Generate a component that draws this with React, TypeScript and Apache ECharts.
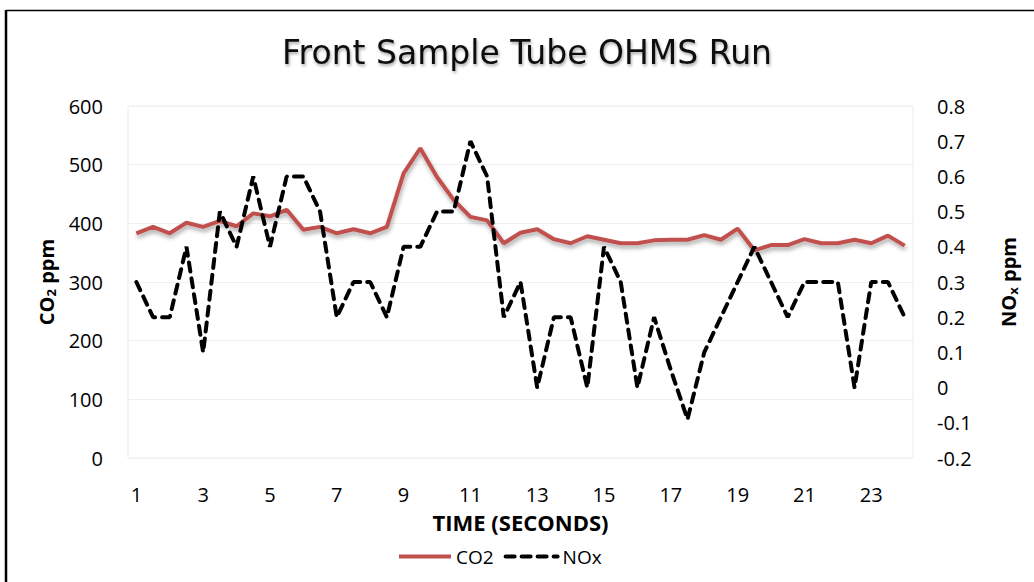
import React, { useEffect, useRef } from "react";
import * as echarts from "echarts";

const categories: string[] = [
  "1", "1.5", "2", "2.5", "3", "3.5", "4", "4.5", "5", "5.5", "6", "6.5",
  "7", "7.5", "8", "8.5", "9", "9.5", "10", "10.5", "11", "11.5", "12", "12.5",
  "13", "13.5", "14", "14.5", "15", "15.5", "16", "16.5", "17", "17.5", "18", "18.5",
  "19", "19.5", "20", "20.5", "21", "21.5", "22", "22.5", "23", "23.5", "24",
];

const co2: number[] = [
  383, 394, 383, 401, 394, 404, 395, 417, 412, 423, 389, 394,
  383, 390, 383, 394, 485, 528, 479, 440, 411, 405, 366, 384,
  390, 373, 366, 378, 372, 366, 366, 371, 372, 372, 380, 372,
  391, 354, 363, 363, 373, 366, 366, 372, 366, 379, 362,
];

const nox: number[] = [
  0.3, 0.2, 0.2, 0.4, 0.1, 0.5, 0.4, 0.6, 0.4, 0.6, 0.6, 0.5,
  0.2, 0.3, 0.3, 0.2, 0.4, 0.4, 0.5, 0.5, 0.7, 0.6, 0.2, 0.3,
  0.0, 0.2, 0.2, 0.0, 0.4, 0.3, 0.0, 0.2, 0.05, -0.09, 0.1, 0.2,
  0.3, 0.4, 0.3, 0.2, 0.3, 0.3, 0.3, 0.0, 0.3, 0.3, 0.2,
];

const leftTicks = { min: 0, max: 600, interval: 100 };
const rightTicks = { min: -0.2, max: 0.8, interval: 0.1 };

const FONT = "'Open Sans', 'Noto Sans', sans-serif";
const TITLE_FONT = "'DejaVu Sans', 'Open Sans', sans-serif";

export default function App() {
  const ref = useRef<HTMLDivElement>(null);

  useEffect(() => {
    if (!ref.current) return;
    const chart = echarts.init(ref.current, null, { renderer: "svg" });
    const nameRich = {
      b: { fontFamily: FONT, fontWeight: "bold", fontSize: 20, color: "#000" },
      s: { fontFamily: FONT, fontWeight: "bold", fontSize: 13, color: "#000", verticalAlign: "bottom", padding: [9, 0, 0, 0] },
    };
    chart.setOption({
      animation: false,
      backgroundColor: "#fff",
      title: {
        text: "Front Sample Tube OHMS Run",
        left: 522,
        top: 31,
        textAlign: "center",
        textStyle: {
          fontFamily: TITLE_FONT,
          fontWeight: "normal",
          fontSize: 33,
          color: "#111",
          textShadowColor: "rgba(0,0,0,0.35)",
          textShadowBlur: 3,
          textShadowOffsetX: 1,
          textShadowOffsetY: 2,
        },
      },
      grid: {
        left: 128,
        right: 121,
        top: 106,
        bottom: 124,
        show: true,
        borderColor: "#ececec",
        borderWidth: 1,
      },
      legend: {
        left: 392,
        top: 542,
        itemWidth: 52,
        itemHeight: 14,
        itemGap: 10,
        itemStyle: { opacity: 0 },
        textStyle: { fontFamily: FONT, fontSize: 19, color: "#000" },
        data: [
          { name: "CO2", lineStyle: { color: "#C0504D", width: 4 } },
          { name: "NOx", lineStyle: { color: "#000", width: 4, type: [9, 7] } },
        ],
      },
      xAxis: {
        type: "category",
        data: categories,
        boundaryGap: true,
        name: "TIME (SECONDS)",
        nameLocation: "middle",
        nameGap: 53,
        nameTextStyle: { fontFamily: FONT, fontWeight: "bold", fontSize: 22, color: "#000" },
        axisLine: { show: false },
        axisTick: { show: false },
        axisLabel: { interval: 3, margin: 26, fontFamily: FONT, fontSize: 20, color: "#000" },
        splitLine: { show: false },
      },
      yAxis: [
        {
          type: "value",
          min: leftTicks.min,
          max: leftTicks.max,
          interval: leftTicks.interval,
          position: "left",
          name: "{b|CO}{s|2}{b| ppm}",
          nameLocation: "middle",
          nameRotate: 90,
          nameGap: 62,
          nameTextStyle: { rich: nameRich },
          axisLine: { show: false },
          axisTick: { show: false },
          axisLabel: { margin: 25, fontFamily: FONT, fontSize: 20, color: "#000" },
          splitLine: { show: true, lineStyle: { color: "#f0f0f0", width: 1 } },
        },
        {
          type: "value",
          min: rightTicks.min,
          max: rightTicks.max,
          interval: rightTicks.interval,
          position: "right",
          name: "{b|NO}{s|x}{b| ppm}",
          nameLocation: "middle",
          nameRotate: 90,
          nameGap: 84,
          nameTextStyle: { rich: nameRich },
          axisLine: { show: false },
          axisTick: { show: false },
          axisLabel: {
            margin: 24,
            fontFamily: FONT,
            fontSize: 20,
            color: "#000",
            formatter: (v: number) => String(parseFloat(v.toFixed(2))),
          },
          splitLine: { show: false },
        },
      ],
      series: [
        {
          name: "CO2",
          type: "line",
          yAxisIndex: 0,
          data: co2,
          symbol: "none",
          lineStyle: {
            color: "#C0504D",
            width: 4,
            shadowColor: "rgba(0,0,0,0.35)",
            shadowBlur: 4,
            shadowOffsetX: 1,
            shadowOffsetY: 3,
          },
          itemStyle: { color: "#C0504D" },
          z: 3,
        },
        {
          name: "NOx",
          type: "line",
          yAxisIndex: 1,
          data: nox,
          symbol: "none",
          lineStyle: { color: "#000", width: 4, type: [9, 7], cap: "round" },
          itemStyle: { color: "#000" },
          z: 4,
        },
      ],
      graphic: [
        { type: "line", shape: { x1: 6, y1: 10.5, x2: 1034, y2: 10.5 }, style: { stroke: "#000", lineWidth: 1.5 } },
        { type: "line", shape: { x1: 6, y1: 10, x2: 6, y2: 582 }, style: { stroke: "#000", lineWidth: 2.5 } },
      ],
    });
    return () => chart.dispose();
  }, []);

  return (
    <div
      ref={ref}
      style={{ position: "fixed", left: 0, top: 0, width: 1034, height: 582 }}
    />
  );
}
